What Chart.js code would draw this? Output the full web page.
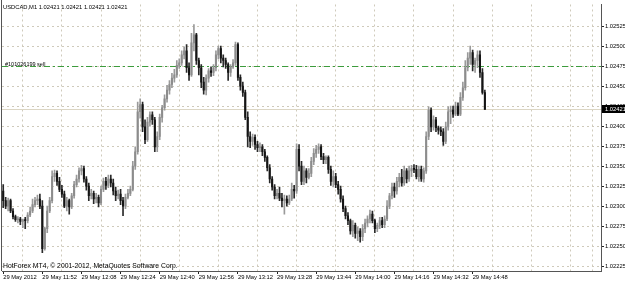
<!DOCTYPE html>
<html>
<head>
<meta charset="utf-8">
<script src="https://cdn.jsdelivr.net/npm/chart.js@4.4.0/dist/chart.umd.min.js"></script>
<style>
  html, body { margin: 0; padding: 0; background: #fff; }
  canvas { display: block; }
</style>
</head>
<body>
<canvas id="chart" width="625" height="281"></canvas>
<script>
const symbolTitle = 'USDCAD,M1 1.02421 1.02421 1.02421 1.02421'
const copyright = 'HotForex MT4, © 2001-2012, MetaQuotes Software Corp.'
const orderLabel = '#101026199 sell'
const orderPrice = 1.02475
const bidPrice = 1.02421

// M1 bars from 11:36
const open = [
  1.02319,1.02307,1.02300,1.02307,1.02294,1.02287,1.02283,1.02284,1.02281,1.02283,
  1.02282,1.02289,1.02294,1.02302,1.02307,1.02309,1.02300,1.02247,1.02272,1.02294,
  1.02307,1.02337,1.02341,1.02331,1.02321,1.02315,1.02300,1.02307,1.02299,1.02313,
  1.02327,1.02334,1.02344,1.02347,1.02334,1.02325,1.02313,1.02316,1.02309,1.02311,
  1.02304,1.02321,1.02331,1.02326,1.02334,1.02329,1.02319,1.02313,1.02315,1.02307,
  1.02300,1.02311,1.02316,1.02321,1.02350,1.02368,1.02418,1.02427,1.02399,1.02383,
  1.02405,1.02414,1.02408,1.02374,1.02387,1.02411,1.02423,1.02434,1.02445,1.02452,
  1.02460,1.02464,1.02476,1.02479,1.02489,1.02494,1.02473,1.02464,1.02504,1.02514,
  1.02482,1.02473,1.02455,1.02445,1.02460,1.02469,1.02467,1.02473,1.02489,1.02497,
  1.02485,1.02482,1.02477,1.02467,1.02474,1.02479,1.02502,1.02461,1.02450,1.02442,
  1.02411,1.02387,1.02381,1.02386,1.02377,1.02373,1.02374,1.02368,1.02361,1.02348,
  1.02334,1.02324,1.02313,1.02316,1.02310,1.02307,1.02309,1.02304,1.02309,1.02321,
  1.02319,1.02371,1.02350,1.02331,1.02344,1.02336,1.02341,1.02356,1.02366,1.02371,
  1.02374,1.02362,1.02358,1.02361,1.02346,1.02331,1.02337,1.02327,1.02321,1.02309,
  1.02297,1.02288,1.02282,1.02269,1.02276,1.02266,1.02269,1.02262,1.02272,1.02279,
  1.02284,1.02290,1.02282,1.02272,1.02276,1.02282,1.02277,1.02284,1.02300,1.02313,
  1.02324,1.02319,1.02331,1.02336,1.02329,1.02344,1.02334,1.02344,1.02347,1.02346,
  1.02337,1.02346,1.02334,1.02344,1.02387,1.02420,1.02399,1.02408,1.02398,1.02395,
  1.02393,1.02381,1.02399,1.02418,1.02420,1.02415,1.02425,1.02415,1.02436,1.02448,
  1.02473,1.02485,1.02492,1.02477,1.02482,1.02489,1.02467,1.02442
]
const high = [
  1.02327,1.02311,1.02310,1.02309,1.02297,1.02289,1.02287,1.02286,1.02284,1.02286,
  1.02292,1.02299,1.02309,1.02311,1.02314,1.02315,1.02307,1.02274,1.02300,1.02311,
  1.02344,1.02345,1.02344,1.02336,1.02326,1.02319,1.02311,1.02309,1.02316,1.02331,
  1.02339,1.02348,1.02351,1.02350,1.02337,1.02329,1.02321,1.02319,1.02316,1.02314,
  1.02325,1.02335,1.02336,1.02339,1.02339,1.02334,1.02324,1.02320,1.02321,1.02311,
  1.02315,1.02321,1.02325,1.02356,1.02374,1.02430,1.02434,1.02430,1.02408,1.02411,
  1.02418,1.02418,1.02411,1.02393,1.02415,1.02426,1.02439,1.02451,1.02457,1.02466,
  1.02471,1.02482,1.02484,1.02494,1.02499,1.02502,1.02479,1.02516,1.02527,1.02516,
  1.02485,1.02477,1.02461,1.02464,1.02472,1.02474,1.02477,1.02494,1.02500,1.02500,
  1.02489,1.02485,1.02479,1.02477,1.02483,1.02505,1.02504,1.02464,1.02455,1.02445,
  1.02418,1.02393,1.02390,1.02389,1.02381,1.02379,1.02377,1.02371,1.02363,1.02352,
  1.02337,1.02327,1.02321,1.02324,1.02316,1.02314,1.02313,1.02314,1.02329,1.02326,
  1.02378,1.02377,1.02356,1.02350,1.02347,1.02347,1.02361,1.02372,1.02376,1.02378,
  1.02377,1.02366,1.02363,1.02363,1.02350,1.02344,1.02341,1.02331,1.02325,1.02313,
  1.02300,1.02292,1.02284,1.02282,1.02279,1.02274,1.02272,1.02277,1.02284,1.02288,
  1.02295,1.02294,1.02284,1.02279,1.02286,1.02286,1.02288,1.02307,1.02316,1.02329,
  1.02329,1.02336,1.02341,1.02346,1.02350,1.02347,1.02350,1.02351,1.02352,1.02351,
  1.02350,1.02350,1.02348,1.02393,1.02424,1.02423,1.02413,1.02411,1.02400,1.02399,
  1.02397,1.02405,1.02424,1.02425,1.02425,1.02430,1.02429,1.02442,1.02455,1.02482,
  1.02492,1.02500,1.02495,1.02485,1.02494,1.02494,1.02472,1.02445
]
const low = [
  1.02298,1.02297,1.02294,1.02292,1.02284,1.02281,1.02279,1.02277,1.02273,1.02272,
  1.02279,1.02287,1.02292,1.02299,1.02302,1.02297,1.02242,1.02245,1.02267,1.02292,
  1.02304,1.02331,1.02326,1.02318,1.02311,1.02298,1.02294,1.02290,1.02297,1.02310,
  1.02324,1.02330,1.02339,1.02330,1.02320,1.02307,1.02309,1.02303,1.02304,1.02299,
  1.02302,1.02318,1.02321,1.02323,1.02324,1.02314,1.02307,1.02309,1.02302,1.02288,
  1.02297,1.02309,1.02313,1.02319,1.02346,1.02365,1.02410,1.02393,1.02378,1.02381,
  1.02400,1.02402,1.02368,1.02368,1.02383,1.02405,1.02420,1.02430,1.02440,1.02448,
  1.02455,1.02461,1.02472,1.02476,1.02484,1.02467,1.02457,1.02462,1.02494,1.02477,
  1.02464,1.02448,1.02440,1.02439,1.02455,1.02462,1.02463,1.02469,1.02484,1.02479,
  1.02474,1.02472,1.02457,1.02462,1.02472,1.02476,1.02457,1.02445,1.02437,1.02408,
  1.02374,1.02373,1.02376,1.02371,1.02368,1.02368,1.02363,1.02356,1.02344,1.02329,
  1.02320,1.02309,1.02309,1.02307,1.02299,1.02290,1.02300,1.02302,1.02307,1.02310,
  1.02316,1.02344,1.02327,1.02327,1.02329,1.02334,1.02337,1.02352,1.02361,1.02366,
  1.02358,1.02353,1.02353,1.02341,1.02326,1.02324,1.02323,1.02315,1.02305,1.02293,
  1.02284,1.02277,1.02265,1.02262,1.02260,1.02257,1.02255,1.02257,1.02267,1.02274,
  1.02279,1.02279,1.02267,1.02268,1.02272,1.02273,1.02273,1.02282,1.02297,1.02309,
  1.02311,1.02315,1.02324,1.02325,1.02326,1.02329,1.02331,1.02337,1.02342,1.02334,
  1.02331,1.02331,1.02330,1.02341,1.02383,1.02393,1.02395,1.02393,1.02390,1.02388,
  1.02376,1.02378,1.02395,1.02403,1.02411,1.02413,1.02413,1.02413,1.02432,1.02445,
  1.02469,1.02477,1.02469,1.02467,1.02473,1.02461,1.02440,1.02421
]
const close = [
  1.02307,1.02300,1.02307,1.02294,1.02287,1.02283,1.02284,1.02281,1.02283,1.02282,
  1.02289,1.02294,1.02302,1.02307,1.02309,1.02300,1.02247,1.02272,1.02294,1.02307,
  1.02337,1.02341,1.02331,1.02321,1.02315,1.02300,1.02307,1.02299,1.02313,1.02327,
  1.02334,1.02344,1.02347,1.02334,1.02325,1.02313,1.02316,1.02309,1.02311,1.02304,
  1.02321,1.02331,1.02326,1.02334,1.02329,1.02319,1.02313,1.02315,1.02307,1.02300,
  1.02311,1.02316,1.02321,1.02350,1.02368,1.02418,1.02427,1.02399,1.02383,1.02405,
  1.02414,1.02408,1.02374,1.02387,1.02411,1.02423,1.02434,1.02445,1.02452,1.02460,
  1.02464,1.02476,1.02479,1.02489,1.02494,1.02473,1.02464,1.02504,1.02514,1.02482,
  1.02473,1.02455,1.02445,1.02460,1.02469,1.02467,1.02473,1.02489,1.02497,1.02485,
  1.02482,1.02477,1.02467,1.02474,1.02479,1.02502,1.02461,1.02450,1.02442,1.02411,
  1.02387,1.02381,1.02386,1.02377,1.02373,1.02374,1.02368,1.02361,1.02348,1.02334,
  1.02324,1.02313,1.02316,1.02310,1.02307,1.02309,1.02304,1.02309,1.02321,1.02319,
  1.02371,1.02350,1.02331,1.02344,1.02336,1.02341,1.02356,1.02366,1.02371,1.02374,
  1.02362,1.02358,1.02361,1.02346,1.02331,1.02337,1.02327,1.02321,1.02309,1.02297,
  1.02288,1.02282,1.02269,1.02276,1.02266,1.02269,1.02262,1.02272,1.02279,1.02284,
  1.02290,1.02282,1.02272,1.02276,1.02282,1.02277,1.02284,1.02300,1.02313,1.02324,
  1.02319,1.02331,1.02336,1.02329,1.02344,1.02334,1.02344,1.02347,1.02346,1.02337,
  1.02346,1.02334,1.02344,1.02387,1.02420,1.02399,1.02408,1.02398,1.02395,1.02393,
  1.02381,1.02399,1.02418,1.02420,1.02415,1.02425,1.02415,1.02436,1.02448,1.02473,
  1.02485,1.02492,1.02477,1.02482,1.02489,1.02467,1.02442,1.02421
]

const timeLabels = ['29 May 2012', '29 May 11:52', '29 May 12:08', '29 May 12:24', '29 May 12:40',
  '29 May 12:56', '29 May 13:12', '29 May 13:28', '29 May 13:44', '29 May 14:00',
  '29 May 14:16', '29 May 14:32', '29 May 14:48']
const priceTicks = [1.02225, 1.0225, 1.02275, 1.023, 1.02325, 1.0235, 1.02375,
  1.024, 1.02425, 1.0245, 1.02475, 1.025, 1.02525]

const firstMinute = 11 * 60 + 36
const totalSlots = 245   // bars + empty shift on the right
const labelEvery = 16

const categories = []
for (let i = 0; i < totalSlots; i++) {
  const m = firstMinute + i
  categories.push(String(Math.floor(m / 60)).padStart(2, '0') + ':' + String(m % 60).padStart(2, '0'))
}

const bodies = open.map((o, i) => [o, close[i]])
const wicks = low.map((l, i) => [l, high[i]])
const isBull = open.map((o, i) => close[i] >= o)

const gridColor = '#cfcabb'
const fontFamily = "'Liberation Sans', Arial, sans-serif"
Chart.defaults.font.family = fontFamily
Chart.defaults.font.size = 5.8
Chart.defaults.color = '#000'

const overlay = {
  id: 'overlay',
  beforeDatasetsDraw(chart) {
    const { ctx, chartArea: a } = chart
    const y = chart.scales.y
    ctx.save()
    // bid line
    let py = Math.round(y.getPixelForValue(bidPrice)) + 0.5
    ctx.strokeStyle = '#dcd6c4'
    ctx.lineWidth = 1
    ctx.beginPath(); ctx.moveTo(a.left, py); ctx.lineTo(a.right, py); ctx.stroke()
    // order line
    py = Math.round(y.getPixelForValue(orderPrice)) + 0.5
    ctx.strokeStyle = '#3c9c3c'
    ctx.setLineDash([6, 3, 2, 3])
    ctx.beginPath(); ctx.moveTo(a.left, py); ctx.lineTo(a.right, py); ctx.stroke()
    ctx.restore()
  },
  afterDraw(chart) {
    const { ctx, chartArea: a } = chart
    const y = chart.scales.y
    ctx.save()
    // left frame
    ctx.strokeStyle = '#555'
    ctx.lineWidth = 1
    ctx.beginPath(); ctx.moveTo(a.left - 0.5, 0); ctx.lineTo(a.left - 0.5, a.bottom); ctx.stroke()

    ctx.fillStyle = '#000'
    ctx.textBaseline = 'alphabetic'
    ctx.font = '5.8px ' + fontFamily
    ctx.fillText(symbolTitle, 3, 9)
    ctx.font = '6.8px ' + fontFamily
    ctx.fillText(copyright, 3, 268)
    ctx.font = '5.5px ' + fontFamily
    ctx.fillText(orderLabel, 5, Math.round(y.getPixelForValue(orderPrice)) - 0.5)

    // bid price label on the axis
    const py = y.getPixelForValue(bidPrice)
    ctx.fillStyle = '#000'
    ctx.fillRect(a.right + 1, Math.round(py) - 4, 625 - a.right, 8)
    ctx.fillStyle = '#fff'
    ctx.font = '5.8px ' + fontFamily
    ctx.textBaseline = 'middle'
    ctx.fillText(bidPrice.toFixed(5), a.right + 4, Math.round(py))
    ctx.restore()
  }
}

new Chart(document.getElementById('chart'), {
  type: 'bar',
  data: {
    labels: categories,
    datasets: [
      {
        label: 'body',
        data: bodies,
        order: 0,
        grouped: false,
        barThickness: 1.4,
        minBarLength: 1,
        borderWidth: 0,
        backgroundColor: isBull.map(b => b ? '#8c8c8c' : '#141414')
      },
      {
        label: 'wick',
        data: wicks,
        order: 1,
        grouped: false,
        barThickness: 1,
        borderWidth: 0,
        backgroundColor: isBull.map(b => b ? '#9a9a9a' : '#2a2a2a')
      }
    ]
  },
  options: {
    responsive: false,
    animation: false,
    layout: { padding: { left: 2, top: 1, right: 0, bottom: 0 } },
    plugins: { legend: { display: false }, tooltip: { enabled: false } },
    scales: {
      x: {
        offset: true,
        afterFit: s => { s.height = 10 },
        grid: {
          offset: false,
          tickLength: 3,
          color: c => (c.index % labelEvery === 8 || c.index === 241) ? gridColor : 'rgba(0,0,0,0)',
          tickColor: c => (c.index % labelEvery === 0 && timeLabels[c.index / labelEvery]) ? '#222' : 'rgba(0,0,0,0)'
        },
        border: { color: '#555', dash: [2, 3] },
        ticks: {
          autoSkip: false,
          maxRotation: 0,
          align: 'start',
          padding: 0,
          callback: (v, i) => (i % labelEvery === 0 && timeLabels[i / labelEvery]) ? timeLabels[i / labelEvery] : ''
        }
      },
      y: {
        position: 'right',
        min: 1.02219,
        max: 1.02552,
        afterFit: s => { s.width = 24 },
        afterBuildTicks: s => { s.ticks = priceTicks.map(v => ({ value: v })) },
        grid: { color: gridColor, tickColor: '#222', tickLength: 3 },
        border: { color: '#555', dash: [2, 3] },
        ticks: { padding: 1, callback: v => v.toFixed(5) }
      }
    }
  },
  plugins: [overlay]
})
</script>
</body>
</html>
